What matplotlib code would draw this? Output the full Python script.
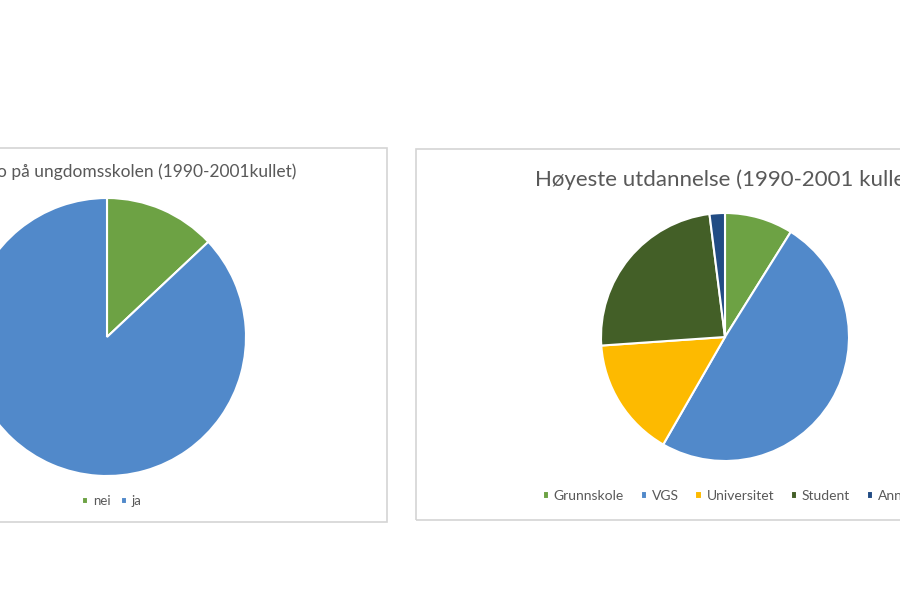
import matplotlib
matplotlib.use("Agg")
import matplotlib.pyplot as plt
from matplotlib.patches import Rectangle

plt.rcParams['font.family'] = ['Lato', 'DejaVu Sans']

# Data
left_title = "o på ungdomsskolen (1990-2001kullet)"
left_labels = ["nei", "ja"]
left_values = [13.0, 87.0]
left_colors = ["#6DA244", "#5189CA"]

right_title = "Høyeste utdannelse (1990-2001 kullet)"
right_labels = ["Grunnskole", "VGS", "Universitet", "Student", "Annet"]
right_values = [8.9, 49.4, 15.6, 24.1, 2.0]
right_colors = ["#6DA244", "#5189CA", "#FDBA00", "#435F27", "#224C84"]

W, H = 900, 600
fig = plt.figure(figsize=(9, 6), dpi=100)
fig.patch.set_facecolor("white")

def fx(x):
    return x / W

def fy(y):
    return 1 - y / H

# Chart area frames
border = "#D4D4D4"
fig.add_artist(Rectangle((fx(-10), fy(522)), fx(387 + 10), (522 - 148) / H,
                         transform=fig.transFigure, fill=False, edgecolor=border, lw=1.2))
fig.add_artist(Rectangle((fx(416), fy(520)), fx(520), (520 - 149) / H,
                         transform=fig.transFigure, fill=False, edgecolor=border, lw=1.2))

def pie_axes(cx, cy, r):
    return fig.add_axes([fx(cx - r), fy(cy + r), 2 * r / W, 2 * r / H])

def finish(ax):
    ax.set_xlim(-1, 1)
    ax.set_ylim(-1, 1)
    ax.set_aspect("equal")
    ax.axis("off")

# Left pie
axL = pie_axes(107, 337, 139)
wL, _ = axL.pie(left_values, colors=left_colors, startangle=90, counterclock=False,
                radius=1, wedgeprops=dict(edgecolor="white", linewidth=1.5))
finish(axL)
fig.text(fx(-3), fy(172), left_title, ha="left", va="center", fontsize=12.5, color="#595959")
fig.legend(wL, left_labels, loc="center", bbox_to_anchor=(fx(112), fy(501)), ncol=2,
           frameon=False, fontsize=9.5, labelcolor="#595959", handlelength=0.45,
           handleheight=0.45, handletextpad=0.35, columnspacing=0.8)

# Right pie
axR = pie_axes(725, 337, 124)
wR, _ = axR.pie(right_values, colors=right_colors, startangle=90, counterclock=False,
                radius=1, wedgeprops=dict(edgecolor="white", linewidth=1.5))
finish(axR)
fig.text(fx(535), fy(180), right_title, ha="left", va="center", fontsize=16, color="#595959")

axLeg = fig.add_axes([fx(416), fy(520), fx(484), 60 / H])
axLeg.axis("off")
leg = axLeg.legend(wR, right_labels, loc="center left", bbox_to_anchor=((530 - 416) / 484, 0.40),
                   ncol=5, frameon=False, fontsize=10, labelcolor="#595959", handlelength=0.45,
                   handleheight=0.45, handletextpad=0.35, columnspacing=1.2)

fig.savefig("out.png", dpi=100, facecolor="white")
